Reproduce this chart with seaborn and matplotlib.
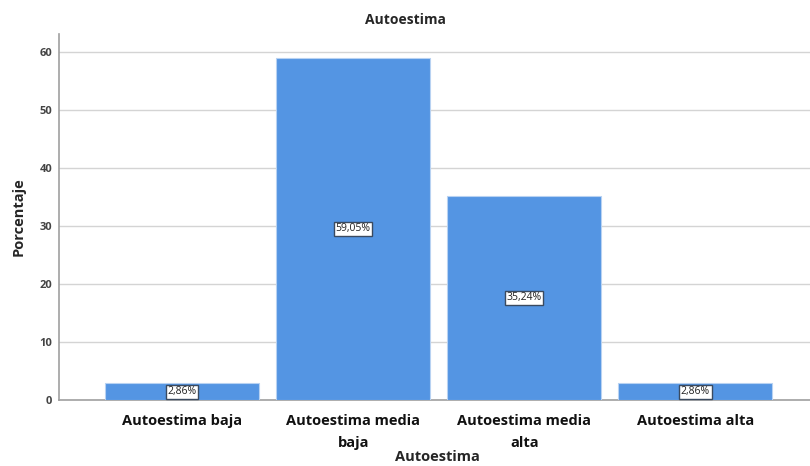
import pandas as pd
import matplotlib
matplotlib.use('Agg')
import matplotlib.pyplot as plt
import seaborn as sns

# Data
categorias = ['Autoestima baja', 'Autoestima media\nbaja', 'Autoestima media\nalta', 'Autoestima alta']
porcentajes = [2.86, 59.05, 35.24, 2.86]
etiquetas = ['2,86%', '59,05%', '35,24%', '2,86%']
yticks = [0, 10, 20, 30, 40, 50, 60]

df = pd.DataFrame({'Autoestima': categorias, 'Porcentaje': porcentajes})

sns.set_style('white')
plt.rcParams['font.family'] = ['Open Sans', 'DejaVu Sans']

fig = plt.figure(figsize=(8.1, 4.66), dpi=100)
ax = fig.add_axes([0.0728, 0.1416, 0.9272, 0.7854])

sns.barplot(data=df, x='Autoestima', y='Porcentaje', color='#5495e3',
            width=0.9, edgecolor='#b8d2f2', linewidth=0.8, saturation=1,
            ax=ax, zorder=3)

# Value labels in boxes at the middle of each bar
for i, (v, txt) in enumerate(zip(porcentajes, etiquetas)):
    ax.text(i, v / 2, txt, ha='center', va='center', fontsize=7.5, color='#222222',
            bbox=dict(boxstyle='square,pad=0.15', fc='white', ec='#3a4a60', lw=1.0),
            zorder=5)

ax.set_xlim(-0.72, 3.67)
ax.set_ylim(0, 63.1)
ax.set_yticks(yticks)
ax.yaxis.grid(True, color='#d4d4d4', linewidth=1.0, zorder=0)
ax.set_axisbelow(True)

for s in ['top', 'right']:
    ax.spines[s].set_visible(False)
for s in ['left', 'bottom']:
    ax.spines[s].set_color('#a0a0a0')
    ax.spines[s].set_linewidth(1.2)

ax.tick_params(axis='y', labelsize=8, colors='#444444', length=0, pad=5)
ax.tick_params(axis='x', labelsize=10.5, colors='#111111', length=0, pad=10)
for lbl in ax.get_yticklabels():
    lbl.set_fontweight('bold')
for lbl in ax.get_xticklabels():
    lbl.set_fontweight('bold')
    lbl.set_linespacing(1.75)

ax.set_xlabel('')
fig.text(0.54, 0.004, 'Autoestima', ha='center', va='bottom', fontsize=10.5, fontweight='bold')
ax.set_ylabel('Porcentaje', fontsize=10.5, fontweight='bold', labelpad=10)
fig.text(0.5, 0.958, 'Autoestima', ha='center', va='center', fontsize=10, fontweight='bold')

plt.savefig('out.png', dpi=100)
